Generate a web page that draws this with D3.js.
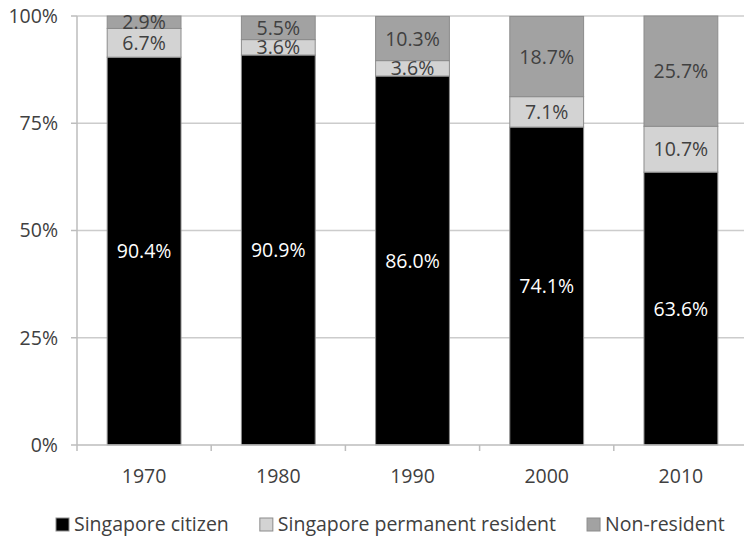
<!DOCTYPE html>
<html>
<head>
<meta charset="utf-8">
<script src="https://cdn.jsdelivr.net/npm/d3@7"></script>
<style>
  html, body { margin: 0; padding: 0; background: #fff; }
  svg { display: block; font-family: "Open Sans", "Noto Sans", sans-serif; }
</style>
</head>
<body>
<svg id="chart" width="744" height="536"></svg>
<script>
// Population shares by residency status (percent)
const years = ["1970", "1980", "1990", "2000", "2010"];
const citizen = [90.4, 90.9, 86.0, 74.1, 63.6];
const permanentResident = [6.7, 3.6, 3.6, 7.1, 10.7];
const nonResident = [2.9, 5.5, 10.3, 18.7, 25.7];
const seriesNames = ["Singapore citizen", "Singapore permanent resident", "Non-resident"];
const yTicks = [0, 25, 50, 75, 100];

const colors = ["#000000", "#d3d3d3", "#a2a2a2"];
const labelColors = ["#ffffff", "#404040", "#404040"];
const fontSize = 19.5;

const rows = years.map((y, i) => ({
  year: y,
  "Singapore citizen": citizen[i],
  "Singapore permanent resident": permanentResident[i],
  "Non-resident": nonResident[i]
}));

const svg = d3.select("#chart");
const margin = { left: 77, right: 0, top: 16, bottom: 91 };
const W = 744, H = 536;
const innerBottom = H - margin.bottom;

const x = d3.scaleBand().domain(years).range([margin.left, 748]).paddingInner(0.45).paddingOuter(0.225);
const xOuter = d3.scaleBand().domain(years).range([margin.left, 748]).padding(0);
const y = d3.scaleLinear().domain([0, 100]).range([innerBottom, margin.top]);

// horizontal gridlines
svg.append("g").selectAll("line").data(yTicks.slice(1)).join("line")
  .attr("x1", margin.left).attr("x2", W)
  .attr("y1", d => y(d)).attr("y2", d => y(d))
  .attr("stroke", "#cccccc").attr("stroke-width", 1.5);

// y axis line and labels
svg.append("line")
  .attr("x1", margin.left).attr("x2", margin.left)
  .attr("y1", y(100)).attr("y2", innerBottom + 6)
  .attr("stroke", "#bdbdbd").attr("stroke-width", 1.5);
svg.append("g").selectAll("line").data(yTicks).join("line")
  .attr("x1", margin.left - 6).attr("x2", margin.left)
  .attr("y1", d => y(d)).attr("y2", d => y(d))
  .attr("stroke", "#bdbdbd").attr("stroke-width", 1.5);
svg.append("g").selectAll("text").data(yTicks).join("text")
  .attr("x", 58).attr("y", d => y(d)).attr("dy", "0.35em")
  .attr("text-anchor", "end")
  .attr("font-size", fontSize).attr("fill", "#404040")
  .text(d => d + "%");

// stacked bars
const stack = d3.stack().keys(seriesNames)(rows);
const layers = svg.append("g").selectAll("g").data(stack).join("g");
layers.each(function(layer, li) {
  d3.select(this).selectAll("rect").data(layer).join("rect")
    .attr("x", d => x(d.data.year))
    .attr("width", x.bandwidth())
    .attr("y", d => y(d[1]))
    .attr("height", d => y(d[0]) - y(d[1]))
    .attr("fill", colors[li])
    .attr("stroke", "#8c8c8c").attr("stroke-width", 1);
});
// segment value labels, centred in each segment
layers.each(function(layer, li) {
  d3.select(this).selectAll("text").data(layer).join("text")
    .attr("x", d => x(d.data.year) + x.bandwidth() / 2)
    .attr("y", d => (y(d[0]) + y(d[1])) / 2)
    .attr("dy", "0.36em")
    .attr("text-anchor", "middle")
    .attr("font-size", fontSize)
    .attr("fill", labelColors[li])
    .text(d => (d[1] - d[0]).toFixed(1) + "%");
});

// x axis line with category boundary ticks
svg.append("line")
  .attr("x1", margin.left).attr("x2", W)
  .attr("y1", innerBottom).attr("y2", innerBottom)
  .attr("stroke", "#bdbdbd").attr("stroke-width", 1.5);
svg.append("g").selectAll("line").data(years).join("line")
  .attr("x1", d => xOuter(d) + xOuter.bandwidth()).attr("x2", d => xOuter(d) + xOuter.bandwidth())
  .attr("y1", innerBottom).attr("y2", innerBottom + 6)
  .attr("stroke", "#bdbdbd").attr("stroke-width", 1.5);
svg.append("g").selectAll("text").data(years).join("text")
  .attr("x", d => x(d) + x.bandwidth() / 2)
  .attr("y", innerBottom + 38)
  .attr("text-anchor", "middle")
  .attr("font-size", fontSize).attr("fill", "#404040")
  .text(d => d);

// legend
const legend = svg.append("g").attr("transform", "translate(0,531)");
let lx = 56;
seriesNames.forEach((name, i) => {
  legend.append("rect")
    .attr("x", lx).attr("y", -13).attr("width", 13).attr("height", 13)
    .attr("fill", colors[i]).attr("stroke", "#8c8c8c").attr("stroke-width", 1);
  const t = legend.append("text")
    .attr("x", lx + 18).attr("y", 0)
    .attr("font-size", fontSize).attr("fill", "#404040")
    .text(name);
  lx += 18 + t.node().getComputedTextLength() + 31;
});
</script>
</body>
</html>
